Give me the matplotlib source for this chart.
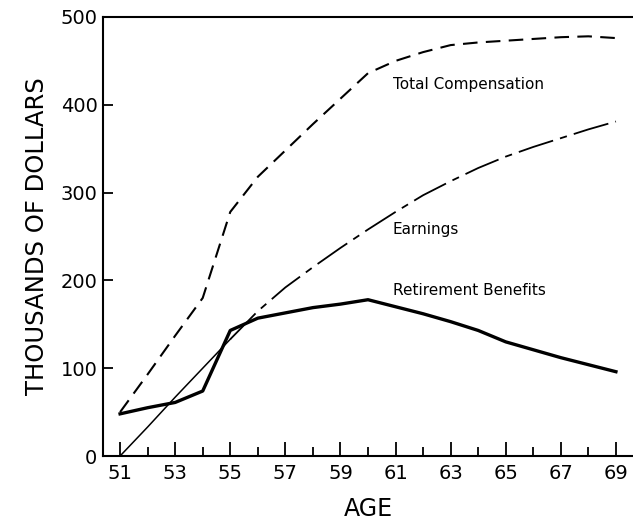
import numpy as np
import matplotlib
matplotlib.use('Agg')
import matplotlib.pyplot as plt
from matplotlib.ticker import MultipleLocator

# ages and values (thousands of dollars)
ages = np.arange(51, 70)
total_comp = [50, 93, 137, 180, 278, 318, 348, 378, 407, 436,
              450, 460, 468, 471, 473, 475, 477, 478, 476]
earnings = [0, 33, 67, 100, 133, 165, 192, 215, 237, 258,
            278, 297, 313, 328, 341, 352, 362, 372, 381]
benefits = [48, 55, 61, 74, 143, 157, 163, 169, 173, 178,
            170, 162, 153, 143, 130, 121, 112, 104, 96]

plt.rcParams['font.family'] = ['DejaVu Sans']

fig = plt.figure(figsize=(6.33, 5.23), dpi=100)
ax = fig.add_axes([103/633, 1 - 456/523, 1 - 103/633, (456 - 17)/523])

ax.plot(ages, total_comp, color='black', lw=1.5, ls=(0, (7, 4)))
# earnings: thin solid early on, then long-short dashes
ax.plot(ages[:5], earnings[:5], color='black', lw=1.1)
ax.plot(ages[4:], earnings[4:], color='black', lw=1.3, ls=(0, (20, 4, 4, 4)))
ax.plot(ages, benefits, color='black', lw=2.4, solid_joinstyle='round')

ax.text(60.9, 423, 'Total Compensation', fontsize=11, ha='left', va='center')
ax.text(60.9, 258, 'Earnings', fontsize=11, ha='left', va='center')
ax.text(60.9, 188, 'Retirement Benefits', fontsize=11, ha='left', va='center')

ax.set_xlim(50.38, 69.62)
ax.set_ylim(0, 500)
ax.spines['right'].set_visible(False)
for s in ['left', 'top', 'bottom']:
    ax.spines[s].set_linewidth(1.5)

ax.set_xticks(range(51, 70, 2))
ax.xaxis.set_minor_locator(MultipleLocator(1))
ax.set_yticks([0, 100, 200, 300, 400, 500])
ax.tick_params(axis='x', which='major', direction='in', length=10, width=1.3,
               labelsize=14, pad=6)
ax.tick_params(axis='x', which='minor', direction='in', length=6.5, width=1.3)
ax.tick_params(axis='y', which='major', direction='in', length=7, width=1.3,
               labelsize=14, pad=4)

ax.set_xlabel('AGE', fontsize=17, labelpad=10)
ax.set_ylabel('THOUSANDS OF DOLLARS', fontsize=17.5, labelpad=8)

fig.savefig('out.png', dpi=100)
